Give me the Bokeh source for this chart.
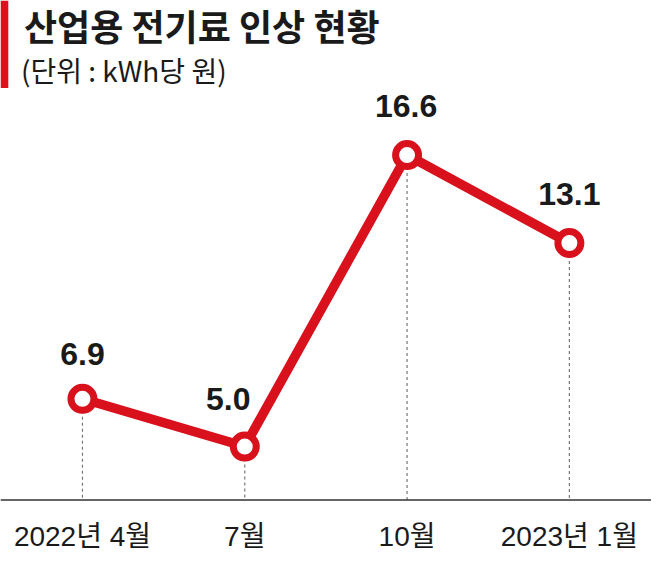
from bokeh.plotting import figure
from bokeh.models import ColumnDataSource, Label, BoxAnnotation, Span, Range1d
from bokeh.core.properties import value
from bokeh.embed import file_html
from bokeh.resources import INLINE

# ---- data ----
categories = ["2022년 4월", "7월", "10월", "2023년 1월"]
rates = [6.9, 5.0, 16.6, 13.1]
title_text = "산업용 전기료 인상 현황"
unit_text = "(단위 : kWh당 원)"

RED = "#d8111d"
W, H = 651, 552
SX, SY = W / 667, H / 568
X0, X1 = -0.505, 3.506
Y0, Y1 = 0.784, 22.75
BASE = 2.873  # value level of the baseline

def X(ref_x):
    return X0 + ref_x * SX * (X1 - X0) / W

def Y(ref_y):
    return Y1 - ref_y * SY * (Y1 - Y0) / H

xs = list(range(len(categories)))
src = ColumnDataSource(dict(
    x=xs, v=rates, base=[BASE] * len(rates),
    lab=[f"{r:.1f}" for r in rates],
    dx=[0, -16.5, -1, 0], dy=[-45, -48, -49, -49],
))
cat_src = ColumnDataSource(dict(x=xs, y=[BASE] * len(xs), name=categories))

p = figure(width=W, height=H, output_backend="svg", toolbar_location=None,
           x_range=Range1d(X0, X1), y_range=Range1d(Y0, Y1),
           min_border=0)
p.outline_line_color = None
p.grid.visible = False
p.axis.visible = False
p.background_fill_color = "white"
p.border_fill_color = "white"

# baseline
p.add_layout(Span(location=BASE, dimension="width", line_color="#333333",
                  line_width=1.5))
# category labels
p.text("x", "y", text="name", source=cat_src, y_offset=36,
       text_align="center", text_baseline="alphabetic",
       text_font=value("'Liberation Sans', 'Noto Sans CJK KR'"),
       text_font_size="28px", text_color="#1a1a1a")

# dashed drop lines
p.segment(x0="x", y0="v", x1="x", y1="base", source=src,
          line_color="#777777", line_width=1.2, line_dash="3 3")
# main line
p.line("x", "v", source=src, line_color=RED, line_width=9.5, line_join="round")
p.scatter("x", "v", source=src, size=23, fill_color="white",
          line_color=RED, line_width=7)
# value labels
p.text("x", "v", text="lab", source=src, x_offset="dx", y_offset="dy",
       text_align="center", text_baseline="alphabetic",
       text_font=value("Liberation Sans"), text_font_style="bold",
       text_font_size="32px", text_color="#1a1a1a")

# header
p.add_layout(BoxAnnotation(left=X(0), right=X(8), top=Y(0), bottom=Y(90),
                           fill_color=RED, fill_alpha=1, line_color=None))
p.add_layout(Label(x=X(24), y=Y(25), text=title_text, text_align="left",
                   text_baseline="alphabetic", text_font="Noto Sans CJK KR",
                   text_font_style="bold", text_font_size="36px",
                   text_color="#1a1a1a"))
p.add_layout(Label(x=X(21), y=Y(72), text=unit_text, text_align="left",
                   text_baseline="alphabetic", text_font="Noto Sans CJK KR",
                   text_font_size="28px", text_color="#1a1a1a"))

open("out.html", "w").write(file_html(p, INLINE))
